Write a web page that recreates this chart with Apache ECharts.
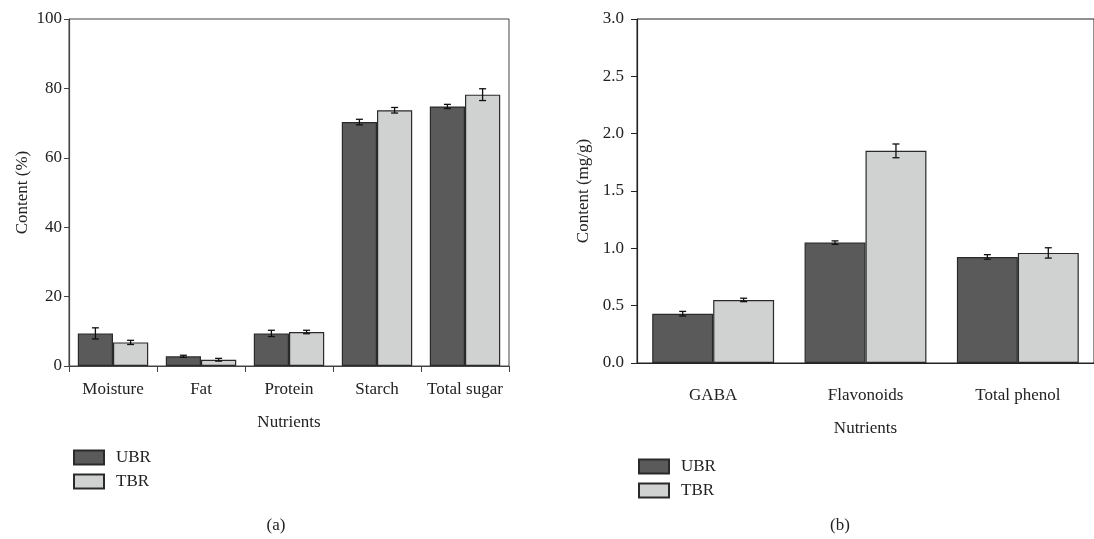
<!DOCTYPE html>
<html>
<head>
<meta charset="utf-8">
<script src="https://cdn.jsdelivr.net/npm/echarts@6/dist/echarts.min.js"></script>
<style>
html,body{margin:0;padding:0;background:#fff;}
#chart{width:1094px;height:539px;}
</style>
</head>
<body>
<div id="chart"></div>
<script>
// Panel (a)
const categoriesA = ['Moisture', 'Fat', 'Protein', 'Starch', 'Total sugar'];
const ubrA = [9.4, 2.8, 9.4, 70.3, 74.8];
const ubrErrA = [1.6, 0.3, 0.9, 0.8, 0.6];
const tbrA = [6.8, 1.8, 9.8, 73.7, 78.2];
const tbrErrA = [0.6, 0.4, 0.5, 0.8, 1.7];
const yTicksA = [0, 20, 40, 60, 80, 100];

// Panel (b)
const categoriesB = ['GABA', 'Flavonoids', 'Total phenol'];
const ubrB = [0.43, 1.05, 0.925];
const ubrErrB = [0.02, 0.015, 0.02];
const tbrB = [0.55, 1.85, 0.96];
const tbrErrB = [0.015, 0.06, 0.045];
const yTicksB = [0.0, 0.5, 1.0, 1.5, 2.0, 2.5, 3.0];

const seriesNames = ['UBR', 'TBR'];

const FONT = '"Liberation Serif", "DejaVu Serif", serif';
const FS = 17;
const TXT = '#222';
const AX = '#444';
const UBR_FILL = '#5a5a5a';
const TBR_FILL = '#d0d2d1';
const BORDER = '#2a2a2a';
const CAT_GAP = 0.2;

function errorSeries(vals, errs, gridIdx, side) {
  return {
    type: 'custom',
    xAxisIndex: gridIdx, yAxisIndex: gridIdx,
    z: 10, silent: true,
    data: vals.map((v, i) => [i, v, errs[i]]),
    renderItem: function (params, api) {
      const x = api.value(0), v = api.value(1), e = api.value(2);
      const band = api.size([1, 0])[0];
      const bw = band * (1 - CAT_GAP) / 2;
      const off = side * bw / 2;
      const top = api.coord([x, v + e]);
      const bot = api.coord([x, v - e]);
      const cx = top[0] + off;
      const cap = 3.5;
      const st = { stroke: '#111', lineWidth: 1.3 };
      return {
        type: 'group',
        children: [
          { type: 'line', shape: { x1: cx, y1: top[1], x2: cx, y2: bot[1] }, style: st },
          { type: 'line', shape: { x1: cx - cap, y1: top[1], x2: cx + cap, y2: top[1] }, style: st },
          { type: 'line', shape: { x1: cx - cap, y1: bot[1], x2: cx + cap, y2: bot[1] }, style: st }
        ]
      };
    }
  };
}

function barSeries(name, vals, gridIdx, fill) {
  return {
    name: name, type: 'bar',
    xAxisIndex: gridIdx, yAxisIndex: gridIdx,
    data: vals,
    barGap: '0%', barCategoryGap: (CAT_GAP * 100) + '%',
    itemStyle: { color: fill, borderColor: BORDER, borderWidth: 1.2 }
  };
}

const chart = echarts.init(document.getElementById('chart'), null, { renderer: 'canvas' });

const legendBase = {
  data: seriesNames, orient: 'vertical', padding: 0, icon: 'rect',
  itemWidth: 30, itemHeight: 14, itemGap: 7, selectedMode: false,
  textStyle: { fontFamily: FONT, fontSize: FS, color: TXT, padding: [0, 0, 0, 7] }
};

const option = {
  animation: false,
  backgroundColor: '#fff',
  textStyle: { fontFamily: FONT },
  title: [
    { text: '(a)', left: 276, top: 517, textAlign: 'center',
      textStyle: { fontFamily: FONT, fontSize: FS, fontWeight: 'normal', color: TXT }, padding: 0 },
    { text: '(b)', left: 840, top: 517, textAlign: 'center',
      textStyle: { fontFamily: FONT, fontSize: FS, fontWeight: 'normal', color: TXT }, padding: 0 }
  ],
  legend: [
    Object.assign({}, legendBase, { left: 73, top: 449 }),
    Object.assign({}, legendBase, { left: 638, top: 458 })
  ],
  grid: [
    { left: 69, right: 585, top: 19, bottom: 173, show: true, borderColor: AX, borderWidth: 1, backgroundColor: 'transparent' },
    { left: 637, right: -3, top: 19, bottom: 176, show: true, borderColor: '#222', borderWidth: 1, backgroundColor: 'transparent' }
  ],
  xAxis: [
    { type: 'category', gridIndex: 0, data: categoriesA,
      name: 'Nutrients', nameLocation: 'middle', nameGap: 48,
      nameTextStyle: { fontFamily: FONT, fontSize: FS, color: TXT },
      axisLine: { lineStyle: { color: AX, width: 1.2 } },
      axisTick: { show: true, length: 6, lineStyle: { color: AX } },
      axisLabel: { fontFamily: FONT, fontSize: FS, color: TXT, margin: 15, interval: 0 },
      splitLine: { show: false } },
    { type: 'category', gridIndex: 1, data: categoriesB,
      name: 'Nutrients', nameLocation: 'middle', nameGap: 57,
      nameTextStyle: { fontFamily: FONT, fontSize: FS, color: TXT },
      axisLine: { lineStyle: { color: '#222', width: 1.2 } },
      axisTick: { show: false },
      axisLabel: { fontFamily: FONT, fontSize: FS, color: TXT, margin: 24, interval: 0 },
      splitLine: { show: false } }
  ],
  yAxis: [
    { type: 'value', gridIndex: 0, min: yTicksA[0], max: yTicksA[yTicksA.length - 1], interval: 20,
      name: 'Content (%)', nameLocation: 'middle', nameGap: 38, nameRotate: 90,
      nameTextStyle: { fontFamily: FONT, fontSize: FS, color: TXT },
      axisLine: { show: true, lineStyle: { color: AX, width: 1.2 } },
      axisTick: { show: true, length: 5, lineStyle: { color: AX } },
      axisLabel: { fontFamily: FONT, fontSize: FS, color: TXT, margin: 7 },
      splitLine: { show: false } },
    { type: 'value', gridIndex: 1, min: yTicksB[0], max: yTicksB[yTicksB.length - 1], interval: 0.5,
      name: 'Content (mg/g)', nameLocation: 'middle', nameGap: 45, nameRotate: 90,
      nameTextStyle: { fontFamily: FONT, fontSize: FS, color: TXT },
      axisLine: { show: true, lineStyle: { color: '#222', width: 1.2 } },
      axisTick: { show: true, length: 6, lineStyle: { color: '#222' } },
      axisLabel: { fontFamily: FONT, fontSize: FS, color: TXT, margin: 13,
        formatter: v => v.toFixed(1) },
      splitLine: { show: false } }
  ],
  series: [
    barSeries('UBR', ubrA, 0, UBR_FILL),
    barSeries('TBR', tbrA, 0, TBR_FILL),
    errorSeries(ubrA, ubrErrA, 0, -1),
    errorSeries(tbrA, tbrErrA, 0, 1),
    barSeries('UBR', ubrB, 1, UBR_FILL),
    barSeries('TBR', tbrB, 1, TBR_FILL),
    errorSeries(ubrB, ubrErrB, 1, -1),
    errorSeries(tbrB, tbrErrB, 1, 1)
  ]
};
chart.setOption(option);
</script>
</body>
</html>
